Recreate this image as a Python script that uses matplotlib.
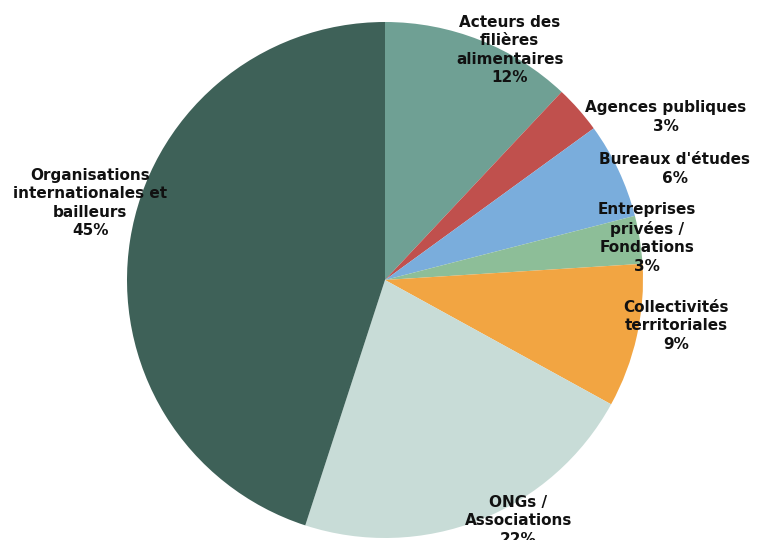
import matplotlib
matplotlib.use("Agg")
import matplotlib.pyplot as plt

# data
labels = ["Acteurs des\nfilières\nalimentaires", "Agences publiques", "Bureaux d'études",
          "Entreprises\nprivées /\nFondations", "Collectivités\nterritoriales",
          "ONGs /\nAssociations", "Organisations\ninternationales et\nbailleurs"]
values = [12, 3, 6, 3, 9, 22, 45]
colors = ["#6fa094", "#c0504d", "#7aaddc", "#8dbe98", "#f2a542", "#c8dcd7", "#3e6158"]

# label positions (pie radius = 1)
label_pos = [(0.484, 0.891), (1.089, 0.632), (1.124, 0.430), (1.016, 0.163),
             (1.128, -0.178), (0.516, -0.934), (-1.143, 0.298)]

fig = plt.figure(figsize=(7.59, 5.4), dpi=100)
ax = fig.add_axes([0, 0, 1, 1])
ax.pie(values, colors=colors, startangle=90, counterclock=False, radius=1.0,
       wedgeprops=dict(linewidth=0))

for lab, v, (x, y) in zip(labels, values, label_pos):
    ax.text(x, y, f"{lab}\n{v}%", ha="center", va="center", fontsize=11,
            fontweight="bold", color="#111111", linespacing=1.28,
            family="DejaVu Sans")

ax.set_xlim(-385 / 258, (759 - 385) / 258)
ax.set_ylim(-(540 - 280) / 258, 280 / 258)
ax.axis("off")

fig.savefig("out.png", dpi=100)
